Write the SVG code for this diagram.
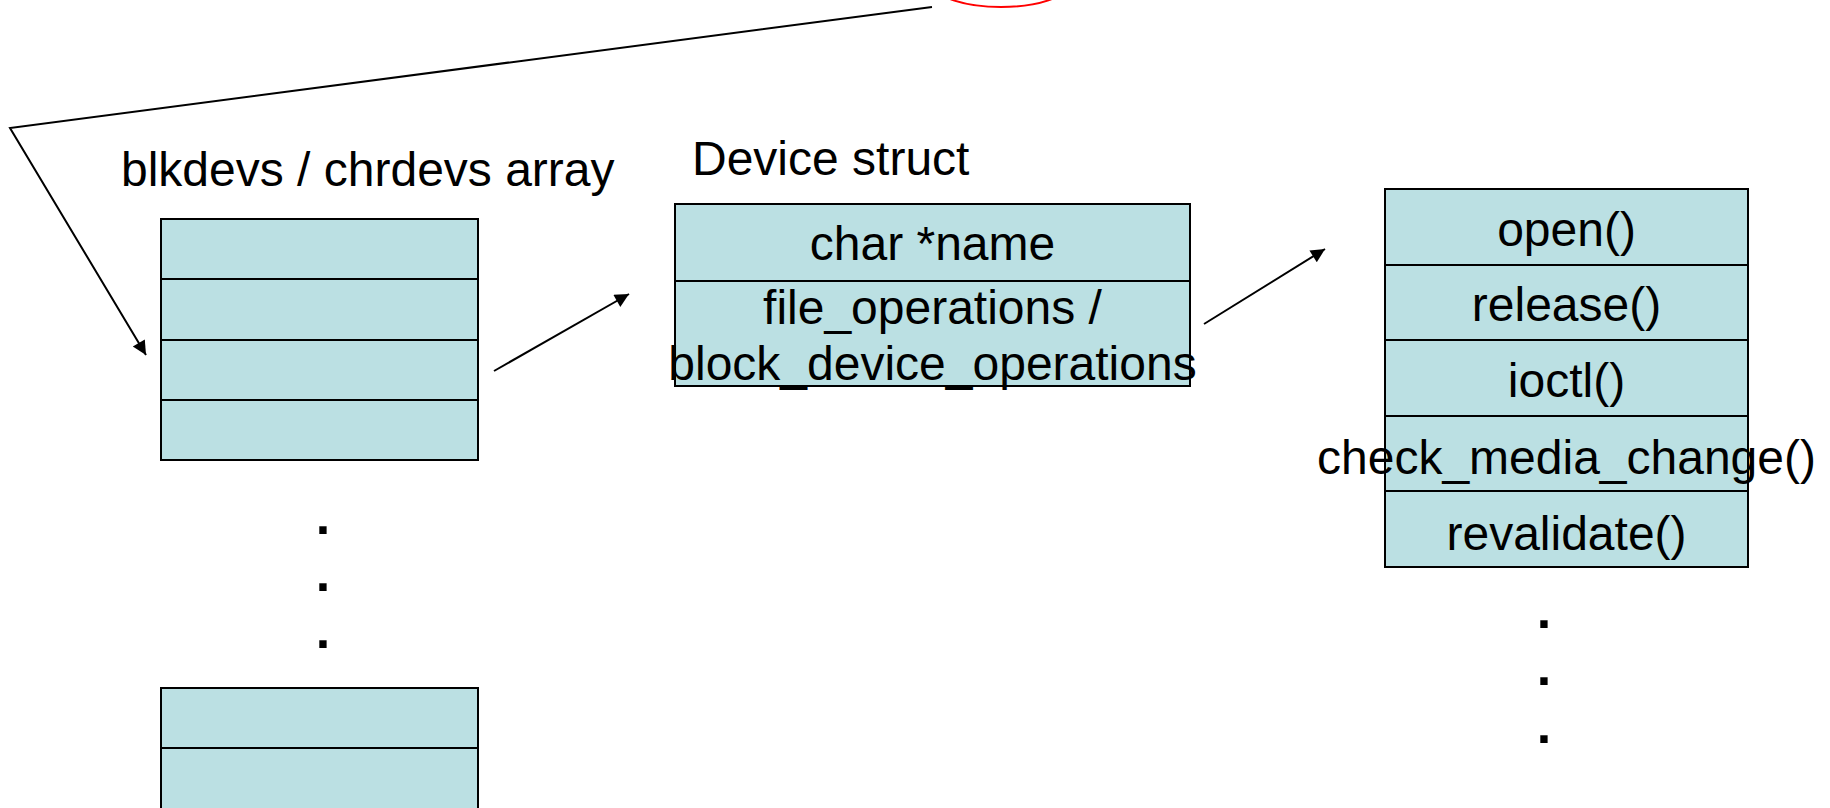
<svg xmlns="http://www.w3.org/2000/svg" width="1830" height="808" viewBox="0 0 1830 808">
<style>
.cell{fill:#BBE0E3;stroke:#000;stroke-width:2}
.t{font-family:"Liberation Sans",Arial,sans-serif;font-size:48px;fill:#000}
.m{text-anchor:middle}
.d{font-weight:bold;font-size:52px}
.conn{fill:none;stroke:#000;stroke-width:2}
</style>
<defs>
<marker id="arr" viewBox="0 0 10 10" refX="10" refY="5" markerWidth="9" markerHeight="7" orient="auto" markerUnits="strokeWidth">
<path d="M0,0 L10,5 L0,10 z" fill="#000"/>
</marker>
</defs>
<rect width="1830" height="808" fill="#fff"/>
<ellipse id="red-ellipse" cx="1001" cy="-15" rx="66" ry="22" fill="none" stroke="#f00" stroke-width="2"/>
<g id="array-label"><text class="t" x="121" y="186">blkdevs / chrdevs array</text></g>
<g id="device-label"><text class="t" x="692" y="175">Device struct</text></g>
<g id="array-top">
<rect class="cell" x="161" y="219" width="317" height="60"/>
<rect class="cell" x="161" y="279" width="317" height="61"/>
<rect class="cell" x="161" y="340" width="317" height="60"/>
<rect class="cell" x="161" y="400" width="317" height="60"/>
</g>
<g id="array-dots">
<text class="t m d" x="323" y="534">.</text>
<text class="t m d" x="323" y="591">.</text>
<text class="t m d" x="323" y="648">.</text>
</g>
<g id="array-bottom">
<rect class="cell" x="161" y="688" width="317" height="60"/>
<rect class="cell" x="161" y="748" width="317" height="62"/>
</g>
<g id="device-struct">
<rect class="cell" x="675" y="204" width="515" height="77"/>
<rect class="cell" x="675" y="281" width="515" height="105"/>
<text class="t m" x="932.5" y="260">char *name</text>
<text class="t m" x="932.5" y="324">file_operations /</text>
<text class="t m" x="932.5" y="380">block_device_operations</text>
</g>
<g id="operations">
<rect class="cell" x="1385" y="189" width="363" height="76"/>
<rect class="cell" x="1385" y="265" width="363" height="75"/>
<rect class="cell" x="1385" y="340" width="363" height="76"/>
<rect class="cell" x="1385" y="416" width="363" height="75"/>
<rect class="cell" x="1385" y="491" width="363" height="76"/>
<text class="t m" x="1566.5" y="246">open()</text>
<text class="t m" x="1566.5" y="321">release()</text>
<text class="t m" x="1566.5" y="397">ioctl()</text>
<text class="t m" x="1566.5" y="474">check_media_change()</text>
<text class="t m" x="1566.5" y="550">revalidate()</text>
</g>
<g id="ops-dots">
<text class="t m d" x="1544" y="628">.</text>
<text class="t m d" x="1544" y="685">.</text>
<text class="t m d" x="1544" y="743">.</text>
</g>
<g id="connectors">
<polyline class="conn" points="932,7 10,128 146,355" marker-end="url(#arr)"/>
<line class="conn" x1="494" y1="371" x2="629" y2="294" marker-end="url(#arr)"/>
<line class="conn" x1="1204" y1="324" x2="1325" y2="249" marker-end="url(#arr)"/>
</g>
</svg>
